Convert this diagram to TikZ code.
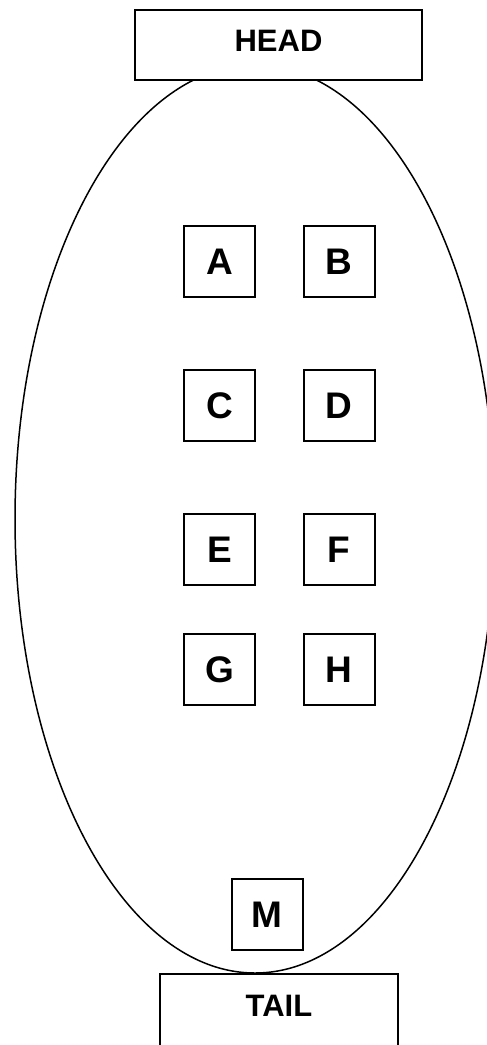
\documentclass[tikz,border=0pt]{standalone}
\usepackage{fontspec}
\setmainfont{Liberation Sans}
\usepackage{tikz}

\begin{document}
\begin{tikzpicture}[x=1pt,y=-1pt,
  letterbox/.style={draw,line width=2pt,fill=white,minimum size=71pt,inner sep=0pt,font=\fontsize{37}{40}\selectfont\bfseries},
  endbox/.style={draw,line width=2pt,fill=white,minimum height=70pt,inner sep=0pt,text height=22pt,text depth=10pt,font=\fontsize{31}{36}\selectfont\bfseries}]
\useasboundingbox (0,0) rectangle (487,1045);
\draw[line width=1.5pt] (255,519) ellipse [x radius=240pt, y radius=454pt];
\node[endbox,minimum width=287pt] (head) at (278.5,45) {HEAD};
\node[endbox,minimum width=238pt,minimum height=76pt,text depth=14pt] (tail) at (279,1012) {TAIL};
\node[letterbox] (a) at (219.5,261.5) {A};
\node[letterbox] (b) at (339,261.5) {B};
\node[letterbox] (c) at (219.5,405.5) {C};
\node[letterbox] (d) at (339,405.5) {D};
\node[letterbox] (e) at (219.5,549.5) {E};
\node[letterbox] (f) at (339,549.5) {F};
\node[letterbox] (g) at (219.5,669.5) {G};
\node[letterbox] (h) at (339,669.5) {H};
\node[letterbox] (m) at (267,914.5) {M};
\end{tikzpicture}
\end{document}
